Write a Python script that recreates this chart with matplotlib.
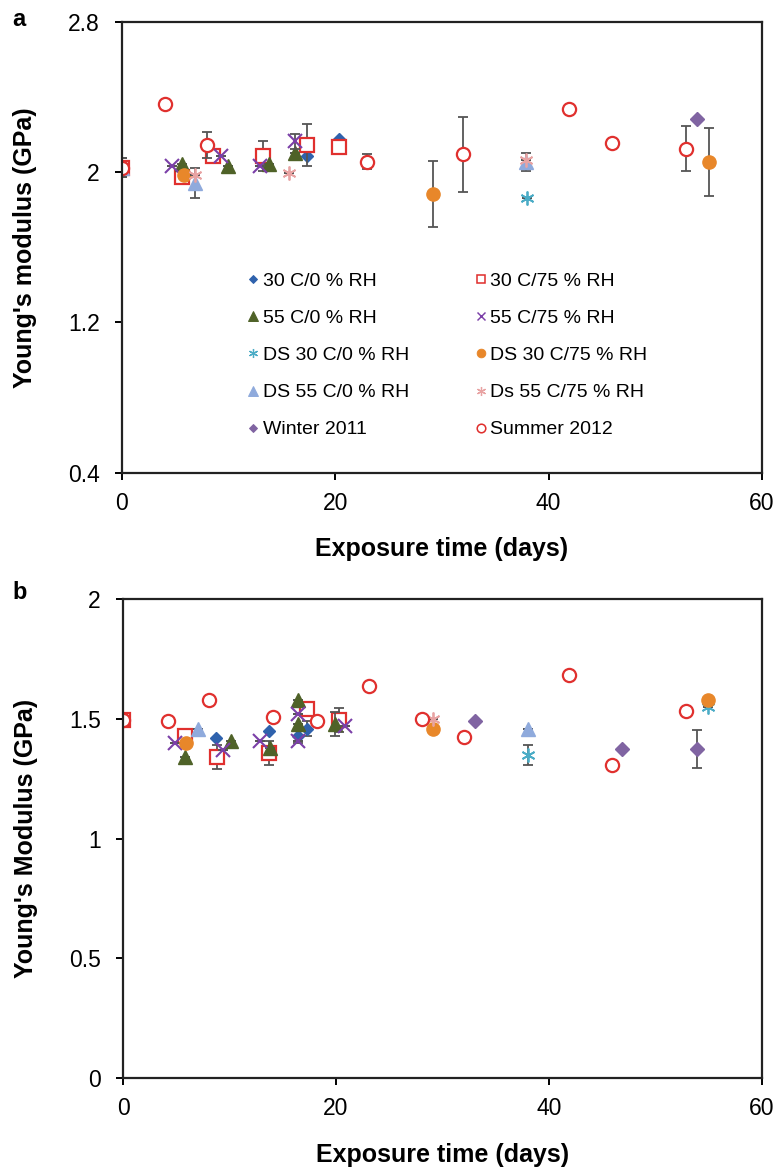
import numpy as np
import matplotlib.pyplot as plt
from matplotlib.lines import Line2D

plt.rcParams["font.family"] = ["Liberation Sans", "DejaVu Sans"]

labels = ["30 C/0 % RH", "30 C/75 % RH", "55 C/0 % RH", "55 C/75 % RH",
          "DS 30 C/0 % RH", "DS 30 C/75 % RH", "DS 55 C/0 % RH", "Ds 55 C/75 % RH",
          "Winter 2011", "Summer 2012"]

# panel a: (days, modulus GPa, error)
a_30_0 = ([0, 17.3, 20.3], [2.025, 2.085, 2.175], [0, 0, 0])
a_30_75 = ([0, 5.6, 8.55, 13.2, 17.3, 20.3], [2.025, 1.975, 2.085, 2.085, 2.145, 2.135], [0.05, 0, 0, 0.08, 0.11, 0])
a_55_0 = ([5.6, 9.95, 13.8, 16.2], [2.045, 2.035, 2.045, 2.105], [0, 0, 0, 0])
a_55_75 = ([4.65, 9.3, 12.9, 16.2], [2.035, 2.085, 2.035, 2.165], [0, 0, 0, 0.04])
a_ds30_0 = ([0, 38.0], [2.025, 1.865], [0, 0])
a_ds30_75 = ([5.8, 29.15, 55.0], [1.985, 1.885, 2.055], [0, 0.175, 0.18])
a_ds55_0 = ([0, 6.8, 37.9], [2.025, 1.945, 2.055], [0, 0.08, 0.05])
a_ds55_75 = ([0, 6.8, 15.7, 37.9], [2.025, 1.985, 1.995, 2.065], [0, 0, 0, 0])
a_winter = ([53.9], [2.285], [0])
a_summer = ([0, 4.0, 8.0, 23.0, 32.0, 41.9, 45.9, 52.9],
            [2.025, 2.365, 2.145, 2.055, 2.095, 2.335, 2.155, 2.125],
            [0.05, 0, 0.07, 0.04, 0.2, 0, 0.02, 0.12])

# panel b
b_30_0 = ([8.7, 13.7, 16.4, 17.3], [1.42, 1.45, 1.43, 1.46], [0, 0, 0.03, 0.03])
b_30_75 = ([0, 5.8, 8.8, 13.7, 17.3, 20.3], [1.495, 1.43, 1.34, 1.36, 1.54, 1.495], [0.02, 0.02, 0.05, 0.05, 0, 0.05])
b_55_0 = ([5.8, 10.1, 13.8, 16.4, 16.4, 19.9], [1.34, 1.41, 1.38, 1.58, 1.48, 1.48], [0, 0, 0, 0, 0, 0.05])
b_55_75 = ([4.9, 9.4, 12.9, 16.4, 16.4, 20.8], [1.40, 1.37, 1.41, 1.52, 1.41, 1.47], [0, 0, 0, 0, 0, 0])
b_ds30_0 = ([38.0, 54.9], [1.35, 1.55], [0.04, 0])
b_ds30_75 = ([5.9, 29.15, 54.9], [1.40, 1.46, 1.58], [0, 0, 0])
b_ds55_0 = ([7.0, 38.0], [1.46, 1.46], [0, 0])
b_ds55_75 = ([29.1], [1.50], [0])
b_winter = ([33.05, 46.9, 53.9], [1.49, 1.375, 1.375], [0, 0, 0.08])
b_summer = ([0, 4.2, 8.1, 14.1, 18.2, 23.1, 28.1, 32.0, 41.9, 45.9, 52.9],
            [1.495, 1.49, 1.58, 1.51, 1.49, 1.64, 1.50, 1.425, 1.685, 1.31, 1.535],
            [0.02, 0, 0, 0, 0, 0, 0, 0, 0, 0, 0])

styles = [
    dict(marker="D", color="#2f62ad", mfc="#2f62ad", ms=6.5),
    dict(marker="s", color="#e0302e", mfc="white", ms=9.5, mew=1.6),
    dict(marker="^", color="#4f6228", mfc="#4f6228", ms=10),
    dict(marker="x", color="#7b3fa8", mfc="#7b3fa8", ms=9.5, mew=1.5),
    dict(marker=(6, 2, 0), color="#4bacc6", mfc="#4bacc6", ms=10, mew=1.3),
    dict(marker="o", color="#e8872a", mfc="#e8872a", ms=9.5),
    dict(marker="^", color="#8faadc", mfc="#8faadc", ms=10),
    dict(marker=(6, 2, 0), color="#e8a3a3", mfc="#e8a3a3", ms=10, mew=1.3),
    dict(marker="D", color="#8064a2", mfc="#8064a2", ms=7),
    dict(marker="o", color="#e0302e", mfc="white", ms=9.5, mew=1.6),
]

fig = plt.figure(figsize=(7.79, 11.73), dpi=100)
ax1 = fig.add_axes([0.1566, 0.597, 0.8216, 0.3842])
ax2 = fig.add_axes([0.1579, 0.081, 0.8203, 0.408])

series_a = [a_30_0, a_30_75, a_55_0, a_55_75, a_ds30_0, a_ds30_75, a_ds55_0, a_ds55_75, a_winter, a_summer]
series_b = [b_30_0, b_30_75, b_55_0, b_55_75, b_ds30_0, b_ds30_75, b_ds55_0, b_ds55_75, b_winter, b_summer]

for ax, series in [(ax1, series_a), (ax2, series_b)]:
    for s, st, lab in zip(series, styles, labels):
        x, y, e = s
        ax.errorbar(x, y, yerr=e, fmt="none", ecolor="#555555", elinewidth=1.3, capsize=3.5, capthick=1.3)
        ax.plot(x, y, linestyle="none", marker=st["marker"], color=st["color"],
                mfc=st["mfc"], mec=st["color"], ms=st["ms"], mew=st.get("mew", 1.0), label=lab)
    ax.set_xlim(0, 60)
    ax.set_xticks([0, 20, 40, 60])
    for sp in ax.spines.values():
        sp.set_linewidth(1.6)
        sp.set_color("#222222")
    ax.tick_params(axis="x", direction="out", length=5, width=1.4, labelsize=16.5, pad=9)
    ax.tick_params(axis="y", direction="out", length=5, width=1.4, labelsize=16.5, pad=11)
    ax.set_xlabel("Exposure time (days)", fontsize=18, fontweight="bold", labelpad=16)

ax1.set_ylim(0.4, 2.8)
ax1.set_yticks([0.4, 1.2, 2.0, 2.8])
ax1.set_yticklabels(["0.4", "1.2", "2", "2.8"])
ax1.set_ylabel("Young's modulus (GPa)", fontsize=18, fontweight="bold", labelpad=22)

ax2.set_ylim(0, 2)
ax2.set_yticks([0, 0.5, 1, 1.5, 2])
ax2.set_yticklabels(["0", "0.5", "1", "1.5", "2"])
ax2.set_ylabel("Young's Modulus (GPa)", fontsize=18, fontweight="bold", labelpad=22)

# legend filled row by row like the original
order = [0, 2, 4, 6, 8, 1, 3, 5, 7, 9]
handles = []
for i in order:
    st = styles[i]
    handles.append(Line2D([], [], linestyle="none", marker=st["marker"], color=st["color"],
                          mfc=st["mfc"], mec=st["color"], ms=st["ms"] * 0.65,
                          mew=st.get("mew", 1.0) * 0.7, label=labels[i]))
ax1.legend(handles=handles, ncol=2, loc="upper left", bbox_to_anchor=(0.168, 0.483),
           frameon=False, fontsize=14, handlelength=0.6, handletextpad=0.2,
           labelspacing=1.0, columnspacing=3.4)

fig.text(0.0154, 0.9838, "a", fontsize=17, fontweight="bold", va="center")
fig.text(0.0154, 0.4953, "b", fontsize=17, fontweight="bold", va="center")

fig.savefig("out.png", dpi=100)
